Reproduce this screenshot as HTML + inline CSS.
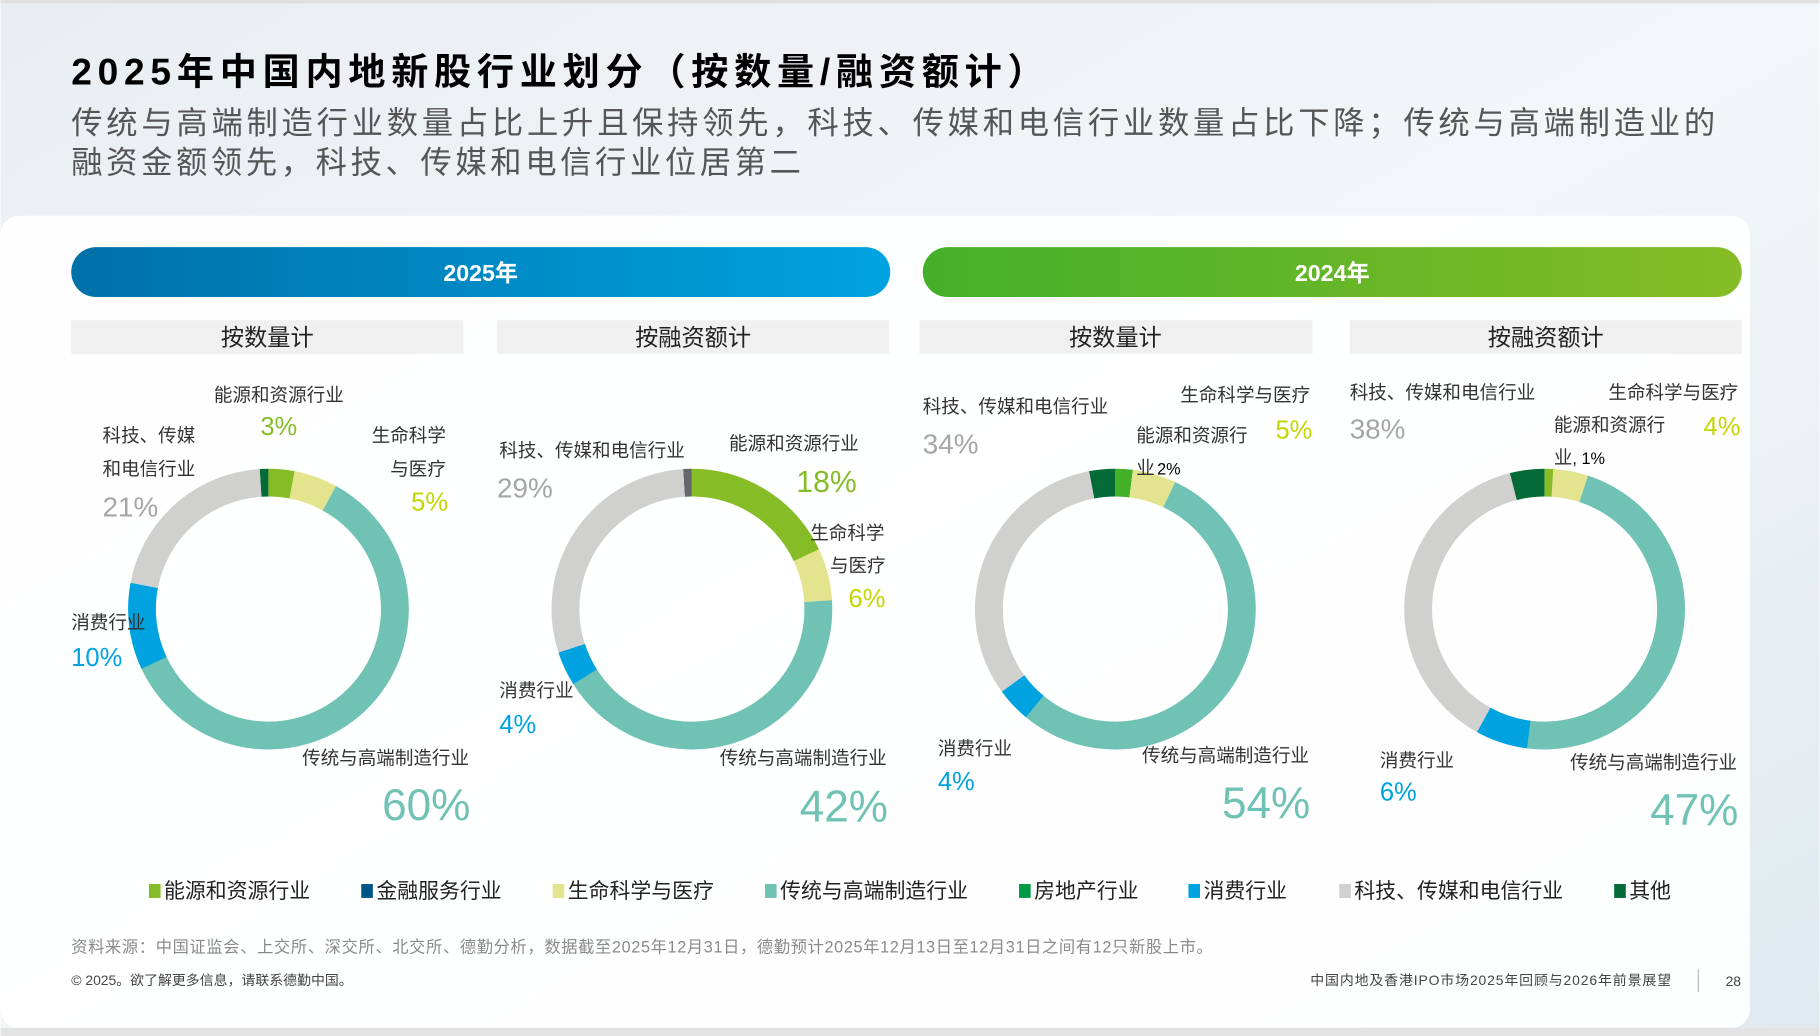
<!DOCTYPE html>
<html><head><meta charset="utf-8"><style>
html,body{margin:0;padding:0;width:1820px;height:1036px;overflow:hidden;background:#fff}
svg{display:block}
text{font-family:"Liberation Sans","Noto Sans CJK SC",sans-serif}
</style></head><body>
<svg width="1820" height="1036" viewBox="0 0 1568 893" xmlns="http://www.w3.org/2000/svg">
<defs>
<linearGradient id="bg" x1="0" y1="0" x2="1" y2="1">
<stop offset="0" stop-color="#e9eef2"/><stop offset="0.5" stop-color="#f3f6f8"/><stop offset="1" stop-color="#dfe9ef"/>
</linearGradient>
<linearGradient id="blue" x1="0" y1="0" x2="1" y2="0">
<stop offset="0" stop-color="#0070a8"/><stop offset="1" stop-color="#00a3e0"/>
</linearGradient>
<linearGradient id="green" x1="0" y1="0" x2="1" y2="0">
<stop offset="0" stop-color="#43b02a"/><stop offset="1" stop-color="#86bc25"/>
</linearGradient>
</defs>
<rect width="1568" height="893" fill="url(#bg)"/>
<rect x="0" y="0" width="1568" height="3" fill="#e0e0e0"/>
<rect x="0" y="186" width="1508" height="700" rx="16" fill="#ffffff" opacity="0.93"/>
<rect x="0" y="886" width="1568" height="7" fill="#e3e3e3"/>

<text x="61" y="73" font-size="32" font-weight="bold" fill="#000" textLength="839" lengthAdjust="spacing">2025年中国内地新股行业划分（按数量/融资额计）</text>
<text x="61" y="115" font-size="27" fill="#555" textLength="1417" lengthAdjust="spacing">传统与高端制造行业数量占比上升且保持领先，科技、传媒和电信行业数量占比下降；传统与高端制造业的</text>
<text x="61" y="149" font-size="27" fill="#555" textLength="629" lengthAdjust="spacing">融资金额领先，科技、传媒和电信行业位居第二</text>

<rect x="61" y="213" width="706" height="43" rx="21.5" fill="url(#blue)"/>
<text x="414" y="242" font-size="20" font-weight="bold" fill="#fff" text-anchor="middle">2025年</text>
<rect x="795" y="213" width="706" height="43" rx="21.5" fill="url(#green)"/>
<text x="1148" y="242" font-size="20" font-weight="bold" fill="#fff" text-anchor="middle">2024年</text>

<g fill="#f0f0f0">
<rect x="61" y="276" width="338" height="29"/><rect x="428" y="276" width="338" height="29"/>
<rect x="792" y="276" width="339" height="29"/><rect x="1163" y="276" width="338" height="29"/>
</g>
<g font-size="20" fill="#222" text-anchor="middle">
<text x="230" y="298">按数量计</text><text x="597" y="298">按融资额计</text>
<text x="961" y="298">按数量计</text><text x="1332" y="298">按融资额计</text>
</g>

<g fill="none" stroke-width="24">
<circle cx="231" cy="525" r="109" stroke="#046a38" stroke-dasharray="6.85 700" transform="rotate(-93.6 231 525)"/>
<circle cx="231" cy="525" r="109" stroke="#86bc25" stroke-dasharray="20.55 700" transform="rotate(-90 231 525)"/>
<circle cx="231" cy="525" r="109" stroke="#e3e48d" stroke-dasharray="34.24 700" transform="rotate(-79.2 231 525)"/>
<circle cx="231" cy="525" r="109" stroke="#6fc2b4" stroke-dasharray="410.9 700" transform="rotate(-61.2 231 525)"/>
<circle cx="231" cy="525" r="109" stroke="#00a3e0" stroke-dasharray="68.49 700" transform="rotate(154.8 231 525)"/>
<circle cx="231" cy="525" r="109" stroke="#d0d0ce" stroke-dasharray="143.8 700" transform="rotate(190.8 231 525)"/>
<circle cx="596" cy="525" r="109" stroke="#63666a" stroke-dasharray="6.85 700" transform="rotate(-93.6 596 525)"/>
<circle cx="596" cy="525" r="109" stroke="#86bc25" stroke-dasharray="123.3 700" transform="rotate(-90 596 525)"/>
<circle cx="596" cy="525" r="109" stroke="#e3e48d" stroke-dasharray="41.09 700" transform="rotate(-25.2 596 525)"/>
<circle cx="596" cy="525" r="109" stroke="#6fc2b4" stroke-dasharray="287.6 700" transform="rotate(-3.6 596 525)"/>
<circle cx="596" cy="525" r="109" stroke="#00a3e0" stroke-dasharray="27.39 700" transform="rotate(147.6 596 525)"/>
<circle cx="596" cy="525" r="109" stroke="#d0d0ce" stroke-dasharray="198.6 700" transform="rotate(162 596 525)"/>
<circle cx="961" cy="525" r="109" stroke="#046a38" stroke-dasharray="20.55 700" transform="rotate(-100.8 961 525)"/>
<circle cx="961" cy="525" r="109" stroke="#43b02a" stroke-dasharray="13.7 700" transform="rotate(-90 961 525)"/>
<circle cx="961" cy="525" r="109" stroke="#e3e48d" stroke-dasharray="34.24 700" transform="rotate(-82.8 961 525)"/>
<circle cx="961" cy="525" r="109" stroke="#6fc2b4" stroke-dasharray="369.8 700" transform="rotate(-64.8 961 525)"/>
<circle cx="961" cy="525" r="109" stroke="#00a3e0" stroke-dasharray="27.39 700" transform="rotate(129.6 961 525)"/>
<circle cx="961" cy="525" r="109" stroke="#d0d0ce" stroke-dasharray="219 700" transform="rotate(144 961 525)"/>
<circle cx="1331" cy="525" r="109" stroke="#046a38" stroke-dasharray="27.39 700" transform="rotate(-104.4 1331 525)"/>
<circle cx="1331" cy="525" r="109" stroke="#86bc25" stroke-dasharray="6.85 700" transform="rotate(-90 1331 525)"/>
<circle cx="1331" cy="525" r="109" stroke="#e3e48d" stroke-dasharray="27.39 700" transform="rotate(-86.4 1331 525)"/>
<circle cx="1331" cy="525" r="109" stroke="#6fc2b4" stroke-dasharray="321.9 700" transform="rotate(-72 1331 525)"/>
<circle cx="1331" cy="525" r="109" stroke="#00a3e0" stroke-dasharray="41.09 700" transform="rotate(97.2 1331 525)"/>
<circle cx="1331" cy="525" r="109" stroke="#d0d0ce" stroke-dasharray="260.3 700" transform="rotate(118.8 1331 525)"/>
</g>

<g font-size="16" fill="#333">
<text x="184" y="346">能源和资源行业</text>
<text x="88" y="381">科技、传媒</text><text x="88" y="410">和电信行业</text>
<text x="320" y="381">生命科学</text><text x="336" y="410">与医疗</text>
<text x="61" y="542">消费行业</text>
<text x="260" y="659">传统与高端制造行业</text>
<text x="430" y="394">科技、传媒和电信行业</text>
<text x="628" y="388">能源和资源行业</text>
<text x="698" y="465">生命科学</text><text x="715" y="493">与医疗</text>
<text x="430" y="601">消费行业</text>
<text x="620" y="659">传统与高端制造行业</text>
<text x="795" y="356">科技、传媒和电信行业</text>
<text x="1017" y="346">生命科学与医疗</text>
<text x="979" y="381">能源和资源行</text>
<text x="979" y="409">业</text><text x="997" y="409" font-size="14" fill="#000">2%</text>
<text x="808" y="651">消费行业</text>
<text x="984" y="657">传统与高端制造行业</text>
<text x="1163" y="344">科技、传媒和电信行业</text>
<text x="1386" y="344">生命科学与医疗</text>
<text x="1339" y="372">能源和资源行</text>
<text x="1339" y="400">业</text><text x="1355" y="400" font-size="14" fill="#000">, 1%</text>
<text x="1189" y="661">消费行业</text>
<text x="1353" y="663">传统与高端制造行业</text>
</g>
<g font-size="22">
<text x="224" y="375" fill="#86bc25">3%</text>
<text x="88" y="445" fill="#a6a6a6" font-size="24">21%</text>
<text x="354" y="440" fill="#c4d600">5%</text>
<text x="61" y="574" fill="#00a3e0">10%</text>
<text x="428" y="429" fill="#a6a6a6" font-size="24">29%</text>
<text x="686" y="424" fill="#86bc25" font-size="26">18%</text>
<text x="731" y="523" fill="#c4d600">6%</text>
<text x="430" y="632" fill="#00a3e0">4%</text>
<text x="795" y="391" fill="#a6a6a6" font-size="24">34%</text>
<text x="1099" y="378" fill="#c4d600">5%</text>
<text x="808" y="681" fill="#00a3e0">4%</text>
<text x="1163" y="378" fill="#a6a6a6" font-size="24">38%</text>
<text x="1468" y="375" fill="#c4d600">4%</text>
<text x="1189" y="690" fill="#00a3e0">6%</text>
</g>
<g font-size="38" fill="#6fc2b4" text-anchor="end">
<text x="405" y="707">60%</text><text x="765" y="708">42%</text>
<text x="1129" y="705">54%</text><text x="1498" y="711">47%</text>
</g>

<g font-size="18" fill="#222">
<rect x="128" y="762" width="10" height="12" fill="#86bc25"/><text x="141" y="774">能源和资源行业</text>
<rect x="311" y="762" width="10" height="12" fill="#005587"/><text x="324" y="774">金融服务行业</text>
<rect x="476" y="762" width="10" height="12" fill="#e3e48d"/><text x="489" y="774">生命科学与医疗</text>
<rect x="659" y="762" width="10" height="12" fill="#6fc2b4"/><text x="672" y="774">传统与高端制造行业</text>
<rect x="878" y="762" width="10" height="12" fill="#009a44"/><text x="891" y="774">房地产行业</text>
<rect x="1024" y="762" width="10" height="12" fill="#00a3e0"/><text x="1037" y="774">消费行业</text>
<rect x="1154" y="762" width="10" height="12" fill="#d0d0ce"/><text x="1167" y="774">科技、传媒和电信行业</text>
<rect x="1391" y="762" width="10" height="12" fill="#046a38"/><text x="1404" y="774">其他</text>
</g>
<text x="61" y="821" font-size="14" fill="#8a8a8a" textLength="984" lengthAdjust="spacing">资料来源：中国证监会、上交所、深交所、北交所、德勤分析，数据截至2025年12月31日，德勤预计2025年12月13日至12月31日之间有12只新股上市。</text>
<text x="61" y="849" font-size="12" fill="#444">© 2025。欲了解更多信息，请联系德勤中国。</text>
<text x="1440" y="849" font-size="12" fill="#444" text-anchor="end" textLength="311" lengthAdjust="spacing">中国内地及香港IPO市场2025年回顾与2026年前景展望</text>
<rect x="1463" y="835" width="1" height="20" fill="#bbb"/>
<text x="1487" y="850" font-size="12" fill="#444">28</text>
</svg>
</body></html>
